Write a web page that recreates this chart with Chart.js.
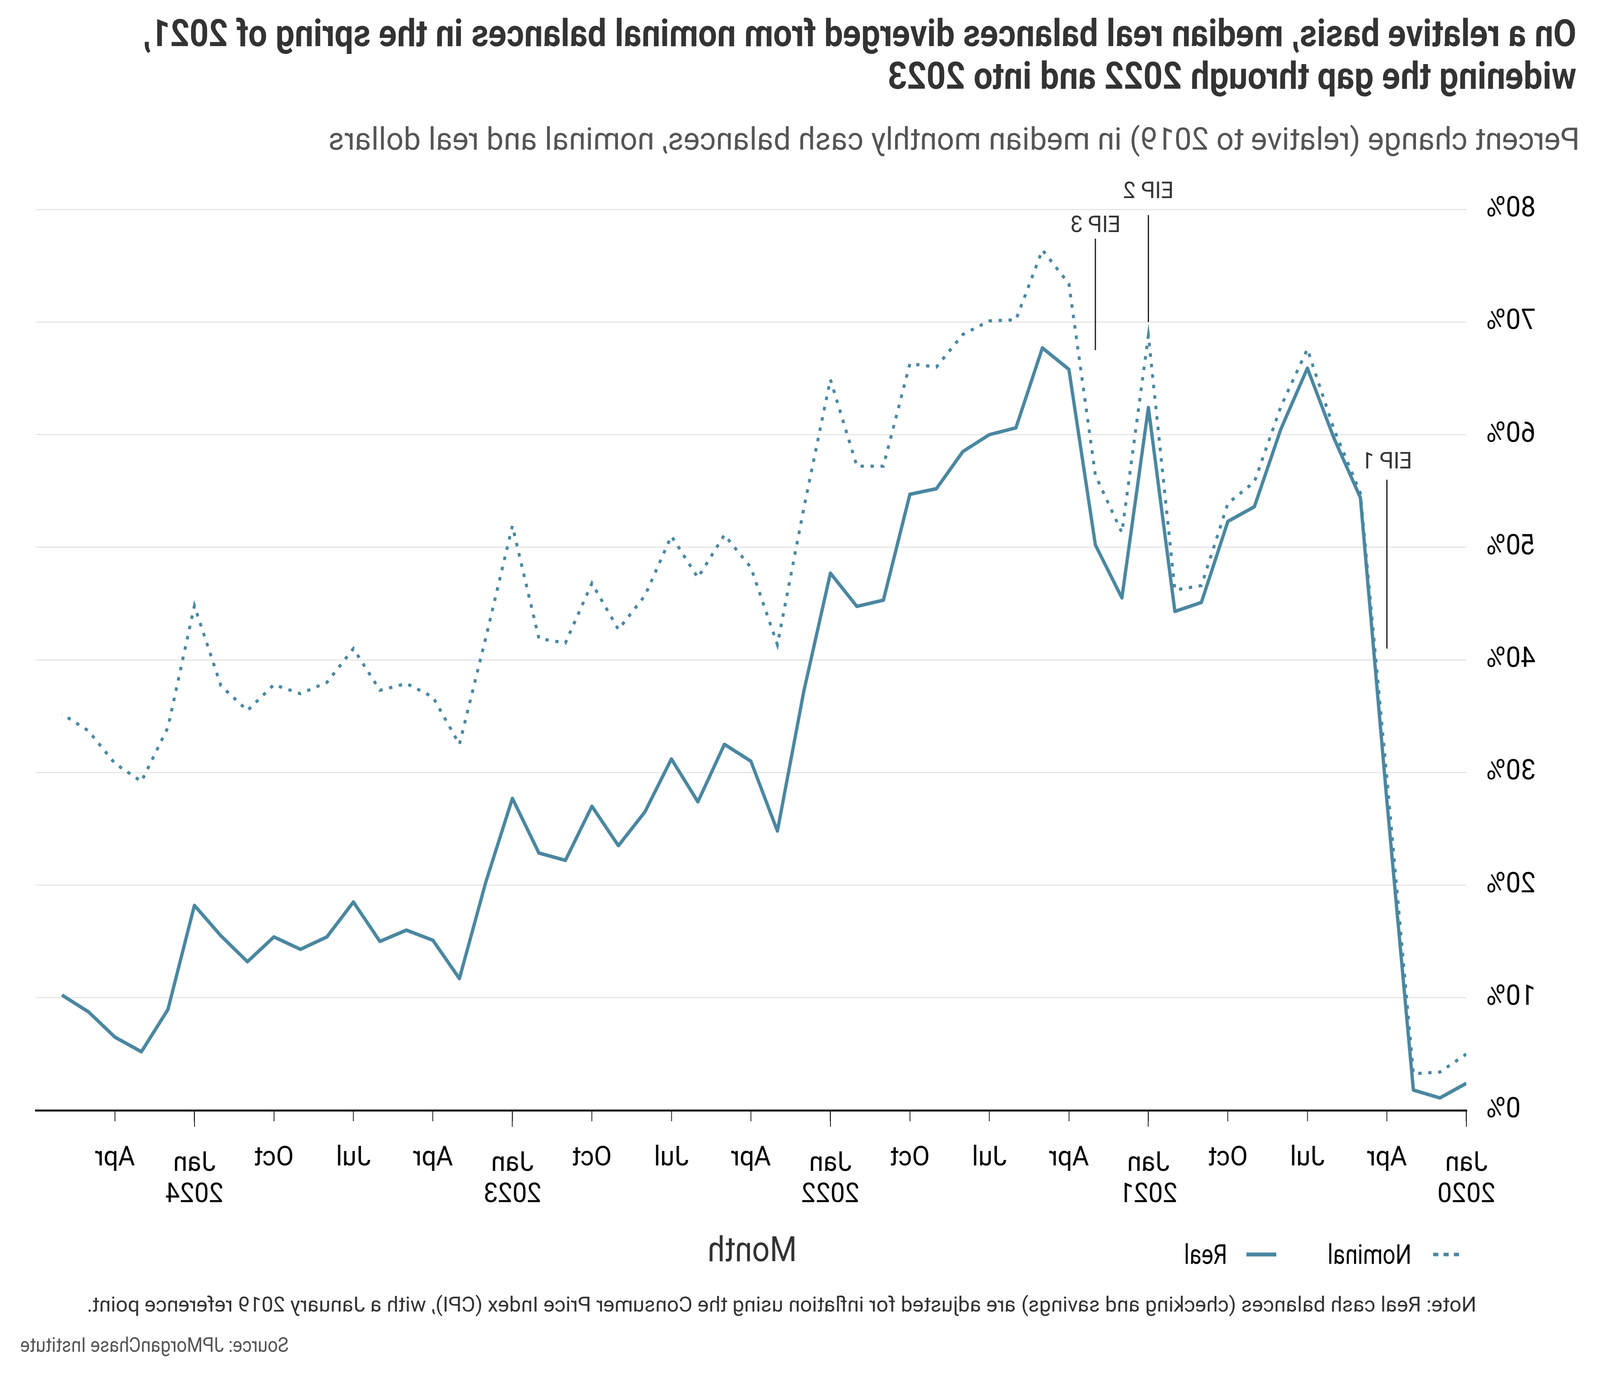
<!DOCTYPE html>
<html>
<head>
<meta charset="utf-8">
<script src="https://cdn.jsdelivr.net/npm/chart.js@4.4.1/dist/chart.umd.min.js"></script>
<style>
  html, body { margin: 0; padding: 0; background: #fff; overflow: hidden; width: 100%; height: 100%; }
  #wrap { position: absolute; left: 0; top: 0; width: 4335px; height: 3522px; overflow: hidden; background: #fff;
          transform-origin: 0 0; }
  #c { position: absolute; left: 0; top: 0; }
  #txt { position: absolute; left: 0; top: 0; }
</style>
</head>
<body>
<div id="wrap">
  <canvas id="c" width="4335" height="3522"></canvas>
  <svg id="txt" width="4335" height="3522" xmlns="http://www.w3.org/2000/svg" font-family="Roboto">
    <text x="64" y="118" font-size="96" font-weight="700" fill="#333" textLength="3884" lengthAdjust="spacingAndGlyphs">On a relative basis, median real balances diverged from nominal balances in the spring of 2021,</text>
    <text x="64" y="227" font-size="96" font-weight="700" fill="#333" textLength="1866" lengthAdjust="spacingAndGlyphs">widening the gap through 2022 and into 2023</text>
    <text x="55" y="383" font-size="79" fill="#555" textLength="3390" lengthAdjust="spacingAndGlyphs">Percent change (relative to 2019) in median monthly cash balances, nominal and real dollars</text>
    <text x="2297" y="3228" font-size="89" fill="#333" text-anchor="middle" textLength="242" lengthAdjust="spacingAndGlyphs">Month</text>
    <line x1="382" y1="3211" x2="452" y2="3211" stroke="#4a87a0" stroke-width="9" stroke-dasharray="14 14"/>
    <text x="511" y="3235" font-size="70" fill="#000" textLength="227" lengthAdjust="spacingAndGlyphs">Nominal</text>
    <line x1="877" y1="3211" x2="958" y2="3211" stroke="#4a87a0" stroke-width="10"/>
    <text x="1010" y="3235" font-size="70" fill="#000" textLength="117" lengthAdjust="spacingAndGlyphs">Real</text>
    <text x="335" y="3357" font-size="54" fill="#333" textLength="3765" lengthAdjust="spacingAndGlyphs">Note: Real cash balances (checking and savings) are adjusted for inflation using the Consumer Price Index (CPI), with a January 2019 reference point.</text>
    <text x="3553" y="3460" font-size="52" fill="#555" textLength="727" lengthAdjust="spacingAndGlyphs">Source: JPMorganChase Institute</text>
  </svg>
</div>
<script>
// ---- Data (percent change relative to 2019) ----
const months = [
  'Jan 2020','Feb 2020','Mar 2020','Apr 2020','May 2020','Jun 2020','Jul 2020','Aug 2020','Sep 2020','Oct 2020','Nov 2020','Dec 2020',
  'Jan 2021','Feb 2021','Mar 2021','Apr 2021','May 2021','Jun 2021','Jul 2021','Aug 2021','Sep 2021','Oct 2021','Nov 2021','Dec 2021',
  'Jan 2022','Feb 2022','Mar 2022','Apr 2022','May 2022','Jun 2022','Jul 2022','Aug 2022','Sep 2022','Oct 2022','Nov 2022','Dec 2022',
  'Jan 2023','Feb 2023','Mar 2023','Apr 2023','May 2023','Jun 2023','Jul 2023','Aug 2023','Sep 2023','Oct 2023','Nov 2023','Dec 2023',
  'Jan 2024','Feb 2024','Mar 2024','Apr 2024','May 2024','Jun 2024'
];
const nominal = [
  5.0, 3.4, 3.25, 29.5, 54.8, 60.5, 67.6, 62.5, 55.8, 53.9, 46.6, 46.2,
  68.8, 51.3, 56.4, 73.4, 76.4, 70.2, 70.1, 68.9, 66.0, 66.3, 57.2, 57.2,
  64.9, 53.5, 41.35, 48.2, 51.1, 47.3, 51.0, 45.7, 42.7, 46.8, 41.5, 41.9,
  51.9, 42.0, 32.5, 36.7, 37.9, 37.3, 41.0, 38.0, 37.0, 37.8, 35.5, 37.7,
  44.8, 34.0, 29.2, 30.8, 33.7, 35.2
];
const real = [
  2.4, 1.1, 1.8, 27.5, 54.4, 59.7, 65.9, 60.5, 53.6, 52.3, 45.1, 44.3,
  62.4, 45.5, 50.2, 65.8, 67.7, 60.6, 60.0, 58.5, 55.2, 54.7, 45.3, 44.75,
  47.7, 37.25, 24.8, 31.0, 32.5, 27.4, 31.2, 26.5, 23.5, 27.0, 22.2, 22.85,
  27.7, 20.3, 11.7, 15.1, 16.0, 15.0, 18.5, 15.4, 14.3, 15.4, 13.2, 15.5,
  18.2, 8.95, 5.2, 6.5, 8.75, 10.24
];
const xTickMonths = [0, 3, 6, 9, 12, 15, 18, 21, 24, 27, 30, 33, 36, 39, 42, 45, 48, 51];
const xTickLabels = [
  ['Jan', '2020'], 'Apr', 'Jul', 'Oct',
  ['Jan', '2021'], 'Apr', 'Jul', 'Oct',
  ['Jan', '2022'], 'Apr', 'Jul', 'Oct',
  ['Jan', '2023'], 'Apr', 'Jul', 'Oct',
  ['Jan', '2024'], 'Apr'
];
const yTicks = [0, 10, 20, 30, 40, 50, 60, 70, 80];
const eipLabels = ['EIP 1', 'EIP 2', 'EIP 3'];
const eipMonths = [3, 12, 14];
const eipLineTop = [56.0, 79.5, 77.4];
const eipLineBottom = [41.0, 70.0, 67.5];
const eipLabelAt = [57.0, 81.0, 78.0];

const LINE_COLOR = '#4a87a0';

// fit the 4335x3522 design into the real viewport, mirrored horizontally like the reference
(function fit() {
  const W = document.documentElement.clientWidth || window.innerWidth || 4335;
  const H = document.documentElement.clientHeight || window.innerHeight || 3522;
  const sx = W / 4335, sy = H / 3522;
  document.getElementById('wrap').style.transform =
    'translateX(' + W + 'px) scale(' + (-sx) + ',' + sy + ')';
})();

const annotPlugin = {
  id: 'annot',
  afterDraw(chart) {
    const ctx = chart.ctx;
    const xs = chart.scales.x, ys = chart.scales.y;
    const base = chart.chartArea.bottom;
    ctx.save();
    // x tick labels (January labels sit below the longer year ticks)
    ctx.fillStyle = '#000';
    ctx.font = '70px Roboto';
    ctx.textAlign = 'center';
    ctx.textBaseline = 'alphabetic';
    xTickMonths.forEach((m, i) => {
      const px = xs.getPixelForValue(m);
      const lab = xTickLabels[i];
      if (Array.isArray(lab)) {
        ctx.fillText(lab[0], px, base + 155);
        ctx.fillText(lab[1], px, base + 235);
      } else {
        ctx.fillText(lab, px, base + 141);
      }
    });
    // longer ticks for January
    ctx.strokeStyle = '#000';
    ctx.lineWidth = 2;
    xTickMonths.forEach((m, i) => {
      if (Array.isArray(xTickLabels[i])) {
        const px = Math.round(xs.getPixelForValue(m));
        ctx.beginPath();
        ctx.moveTo(px, base);
        ctx.lineTo(px, base + 42);
        ctx.stroke();
      }
    });
    // EIP markers
    ctx.lineWidth = 3;
    ctx.font = '60px Roboto';
    ctx.fillStyle = '#333';
    eipLabels.forEach((lab, i) => {
      const px = xs.getPixelForValue(eipMonths[i]);
      ctx.beginPath();
      ctx.moveTo(px, ys.getPixelForValue(eipLineTop[i]));
      ctx.lineTo(px, ys.getPixelForValue(eipLineBottom[i]));
      ctx.stroke();
      ctx.fillText(lab, px, ys.getPixelForValue(eipLabelAt[i]));
    });
    ctx.restore();
  }
};

function draw() {
  new Chart(document.getElementById('c'), {
    type: 'line',
    data: {
      labels: months,
      datasets: [
        {
          label: 'Real',
          data: real.map((v, i) => ({ x: i, y: v })),
          borderColor: LINE_COLOR,
          borderWidth: 9,
          borderJoinStyle: 'round',
          pointRadius: 0,
          tension: 0,
          fill: false,
          order: 0
        },
        {
          label: 'Nominal',
          data: nominal.map((v, i) => ({ x: i, y: v })),
          borderColor: LINE_COLOR,
          borderWidth: 8,
          borderDash: [9, 18],
          borderCapStyle: 'butt',
          pointRadius: 0,
          tension: 0,
          fill: false,
          order: 1
        }
      ]
    },
    options: {
      responsive: false,
      animation: false,
      devicePixelRatio: 1,
      layout: { padding: { left: 0, right: 96, top: 536, bottom: 0 } },
      plugins: { legend: { display: false }, tooltip: { enabled: false } },
      scales: {
        x: {
          type: 'linear',
          min: 0,
          max: 54,
          afterBuildTicks: (s) => { s.ticks = xTickMonths.map(v => ({ value: v })); },
          afterFit: (s) => { s.height = 680; },
          ticks: { display: false, autoSkip: false, maxRotation: 0, minRotation: 0 },
          grid: { display: true, drawOnChartArea: false, drawTicks: true, tickLength: 28, tickWidth: 2, tickColor: '#000' },
          border: { display: true, color: '#000', width: 5 }
        },
        y: {
          min: 0,
          max: 80,
          afterBuildTicks: (s) => { s.ticks = yTicks.map(v => ({ value: v })); },
          afterFit: (s) => { s.width = 362; },
          ticks: {
            padding: 54,
            color: '#000',
            font: { family: 'Roboto', size: 72 },
            callback: (v) => v + '%'
          },
          grid: { color: '#e6e6e6', lineWidth: 3, drawTicks: false },
          border: { display: false }
        }
      }
    },
    plugins: [annotPlugin]
  });
}

if (document.fonts && document.fonts.load) {
  Promise.all([
    document.fonts.load('72px Roboto'),
    document.fonts.load('700 96px Roboto')
  ]).then(draw, draw);
} else {
  draw();
}
</script>
</body>
</html>
